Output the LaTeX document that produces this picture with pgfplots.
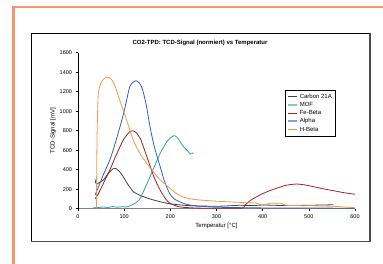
\documentclass[border=0pt]{standalone}
\usepackage{pgfplots}
\pgfplotsset{compat=1.18}
\usepackage{fontspec}
\setmainfont{Liberation Sans}
\definecolor{brd}{HTML}{F4956A}
\definecolor{carb}{HTML}{404040}
\definecolor{mof}{HTML}{2AA5A5}
\definecolor{mofl}{HTML}{80CCCC}
\definecolor{fe}{HTML}{A52020}
\definecolor{alp}{HTML}{3060C0}
\definecolor{alpl}{HTML}{8AA0D8}
\definecolor{hb}{HTML}{F79646}
\begin{document}
\begin{tikzpicture}[x=1pt,y=1pt]
\useasboundingbox (0,0) rectangle (383,264);
\draw[brd, line width=2.2pt] (13.5,0) -- (13.5,257) -- (383,257);
\draw[black, line width=0.6pt] (31,23) rectangle (369.5,231);
\draw[gray!60!black, line width=1.4pt] (370,231) -- (370,22.3) -- (31,22.3);
\node[font=\bfseries\fontsize{6}{7}\selectfont] at (200,221) {CO2-TPD: TCD-Signal (normiert) vs Temperatur};
\begin{axis}[
  at={(78pt,55.3pt)}, anchor=south west,
  scale only axis, width=277pt, height=156pt,
  xmin=0, xmax=600, ymin=0, ymax=1600,
  axis lines*=left,
  x axis line style={gray, line width=1pt},
  y axis line style={black, line width=0.5pt},
  xtick={0,100,...,600}, ytick={0,200,...,1600},
  tick align=outside, major tick length=2.5pt,
  tick style={black, line width=0.4pt},
  ticklabel style={font=\fontsize{5.5}{6.5}\selectfont},
  /pgf/number format/assume math mode=true,
  /pgf/number format/set thousands separator={},
  xlabel={Temperatur [°C]}, ylabel={TCD-Signal [mV]},
  label style={font=\fontsize{6}{7}\selectfont},
  xlabel style={yshift=2pt}, ylabel style={yshift=-3pt},
  legend style={at={(0.747,0.761)}, anchor=north west, draw=black, line width=0.8pt,
    font=\fontsize{6}{7}\selectfont, row sep=-1.5pt, inner sep=1.5pt},
  legend cell align=left,
  legend image code/.code={\draw[#1, line width=0.8pt] (0pt,0pt) -- (9pt,0pt);},
  every axis plot/.append style={line width=0.8pt, smooth, tension=0.35},
]
\addplot[carb] coordinates {(37,300) (38,270) (40,250) (45,265) (55,294) (65,360) (76,410) (82,412) (90,380) (98,328) (108,250) (120,175) (135,135) (156,100) (175,75) (199,50) (230,35) (260,28) (300,25) (330,30) (350,35) (380,32) (400,38) (450,32) (500,35) (530,38) (553,40)};
\addlegendentry{Carbon 21A}
\addplot[mof, legend image code/.code={\draw[mofl, line width=2pt] (0pt,0pt) -- (9pt,0pt);}] coordinates {(33,10) (45,12) (55,18) (65,12) (75,22) (85,15) (95,20) (105,18) (113,30) (125,60) (134,100) (145,210) (156,328) (167,450) (178,568) (190,670) (199,722) (208,749) (215,730) (228,640) (238,590) (243,561) (247,565) (250,575)};
\addlegendentry{MOF}
\addplot[fe] coordinates {(37,100) (45,160) (55,260) (69,397) (80,520) (91,636) (100,720) (112,790) (118,800) (125,785) (135,720) (145,590) (156,440) (165,320) (178,190) (190,100) (199,55) (215,25) (228,14) (260,6) (300,5) (355,5) (362,38) (375,90) (394,140) (410,175) (430,209) (450,240) (473,253) (490,245) (510,226) (530,205) (553,185) (575,165) (600,148)};
\addlegendentry{Fe-Beta}
\addplot[alp, legend image code/.code={\draw[alpl, line width=2pt] (0pt,0pt) -- (9pt,0pt);}] coordinates {(37,140) (45,230) (55,350) (69,500) (80,660) (91,841) (100,1000) (112,1251) (120,1300) (126,1313) (133,1290) (140,1220) (148,1060) (156,841) (165,640) (178,431) (188,270) (199,150) (210,95) (228,55) (245,35) (264,25) (300,15) (400,8) (600,5)};
\addlegendentry{Alpha}
\addplot[hb] coordinates {(40,0) (40.5,400) (41.5,800) (44,1183) (51,1303) (58,1340) (66,1348) (72,1330) (80,1260) (90,1120) (98,1010) (110,840) (120,700) (135,560) (156,420) (175,310) (199,209) (215,150) (228,120) (245,100) (264,89) (300,77) (329,70) (360,62) (385,58) (395,40) (405,40) (415,55) (440,55) (450,35) (500,30) (550,25) (600,10)};
\addlegendentry{H-Beta}
\end{axis}
\end{tikzpicture}
\end{document}
